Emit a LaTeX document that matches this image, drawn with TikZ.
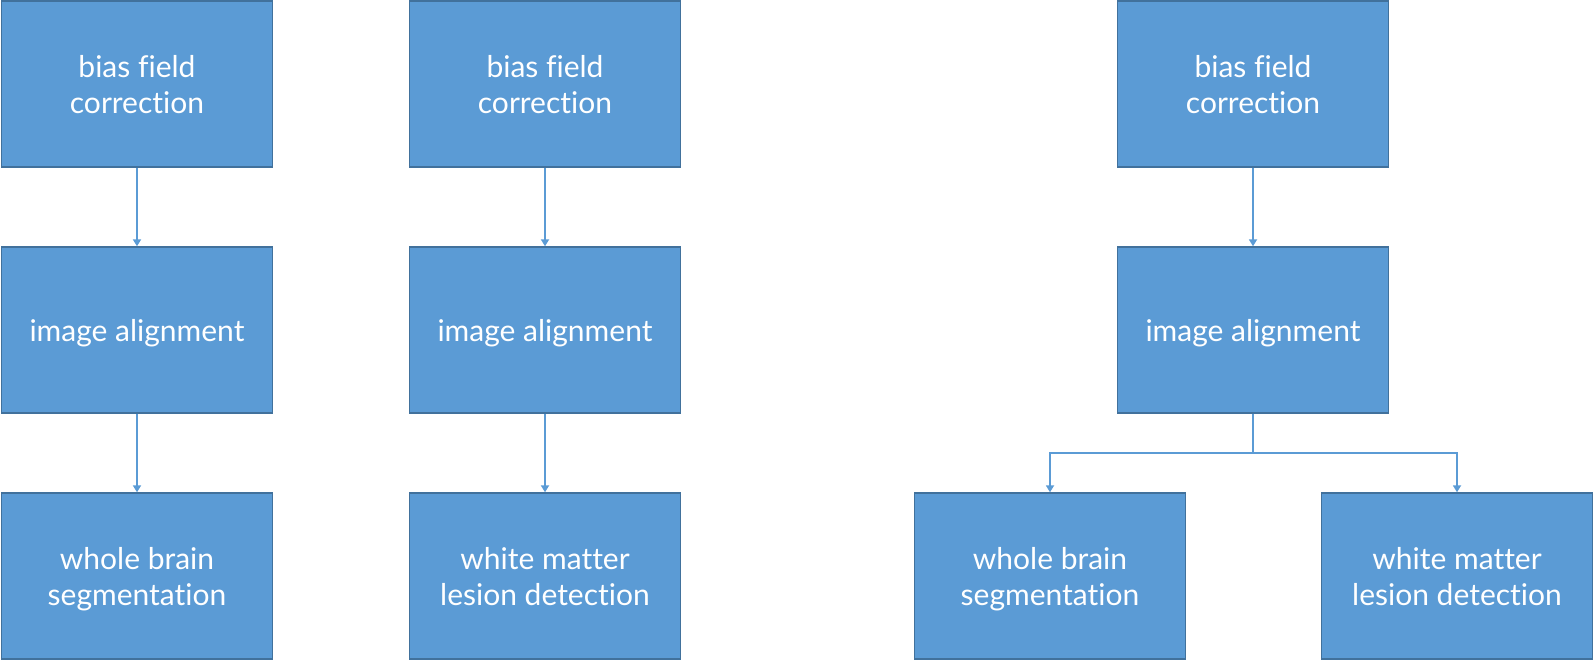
\documentclass[tikz,border=0pt]{standalone}
\usepackage{fontspec}
\setmainfont{Lato}[Ligatures=NoCommon]
\usetikzlibrary{arrows.meta}
\definecolor{boxfill}{HTML}{5B9BD5}
\definecolor{boxline}{HTML}{41719C}
\tikzset{
    box/.style={draw=boxline, fill=boxfill, line width=1.4pt, minimum width=271pt, minimum height=166pt,
        align=center, text=white, font=\fontsize{30}{36}\selectfont, text depth=-4pt},
    link/.style={draw=boxfill, line width=1.8pt, -{Triangle[length=7pt,width=8pt]}}
}
\begin{document}
\begin{tikzpicture}[x=1pt, y=-1pt]
            \useasboundingbox (0,0) rectangle (1594,662);
            \node[box] (bias1) at (137, 84) {bias field\\correction};
            \node[box] (align1) at (137, 330) {image alignment};
            \node[box] (seg1) at (137, 576) {whole brain\\segmentation};
            \node[box] (bias2) at (545, 84) {bias field\\correction};
            \node[box] (align2) at (545, 330) {image alignment};
            \node[box] (lesion2) at (545, 576) {white matter\\lesion detection};
            \node[box] (bias3) at (1253, 84) {bias field\\correction};
            \node[box] (align3) at (1253, 330) {image alignment};
            \node[box] (seg3) at (1050, 576) {whole brain\\segmentation};
            \node[box] (lesion3) at (1457, 576) {white matter\\lesion detection};
            \coordinate (fork) at (1253, 453);
            \draw[link] (bias1) -- (align1);
            \draw[link] (align1) -- (seg1);
            \draw[link] (bias2) -- (align2);
            \draw[link] (align2) -- (lesion2);
            \draw[link] (bias3) -- (align3);
            \draw[link] (align3.south) -- (fork) -| (seg3.north);
            \draw[link] (fork) -| (lesion3.north);
        \end{tikzpicture}
\end{document}
